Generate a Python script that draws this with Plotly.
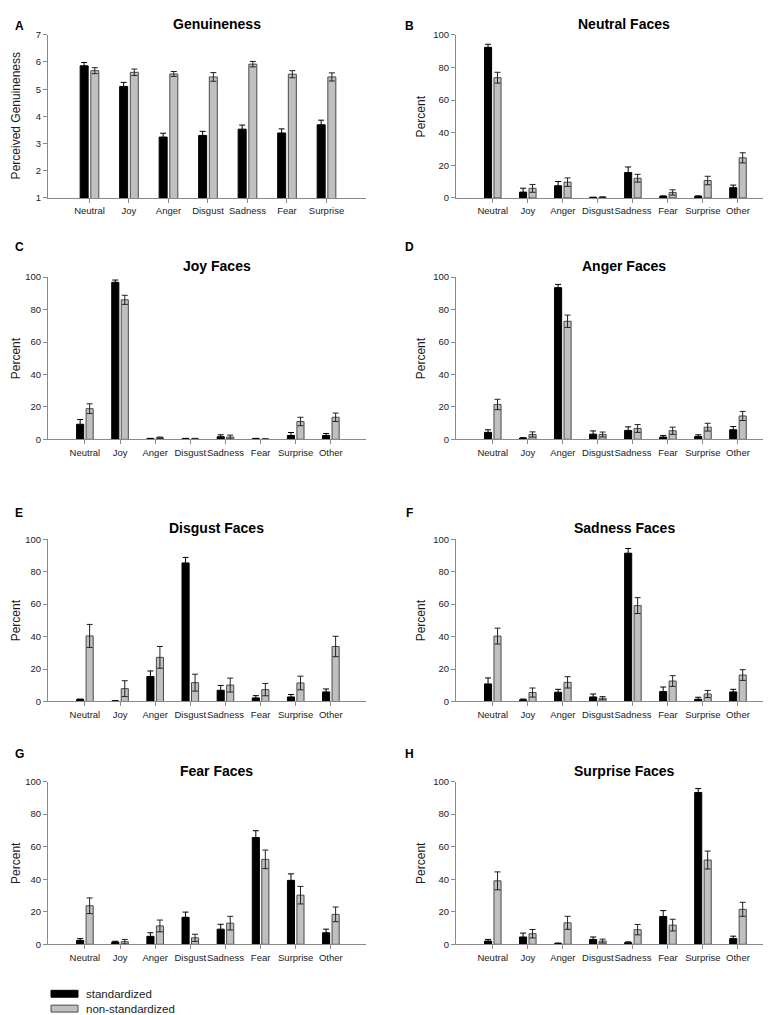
import plotly.graph_objects as go
from plotly.subplots import make_subplots

FONT = "Liberation Sans, Arial, sans-serif"
W, H = 771, 1015

series_names = ["standardized", "non-standardized"]

gen_categories = ["Neutral", "Joy", "Anger", "Disgust", "Sadness", "Fear", "Surprise"]
face_categories = ["Neutral", "Joy", "Anger", "Disgust", "Sadness", "Fear", "Surprise", "Other"]

# Panel A: Genuineness
gen_std = [5.86, 5.10, 3.24, 3.30, 3.53, 3.39, 3.69]
gen_std_err = [0.12, 0.15, 0.14, 0.15, 0.15, 0.15, 0.17]
gen_non = [5.68, 5.62, 5.56, 5.45, 5.92, 5.55, 5.45]
gen_non_err = [0.11, 0.12, 0.09, 0.16, 0.10, 0.13, 0.15]

# Panel B: Neutral Faces
neu_std = [92.3, 3.6, 7.5, 0.3, 15.6, 1.0, 1.0, 6.3]
neu_std_err = [1.9, 2.4, 2.6, 0.2, 3.4, 0.3, 0.3, 1.6]
neu_non = [73.7, 5.9, 9.7, 0.5, 12.1, 3.4, 10.7, 24.6]
neu_non_err = [3.3, 2.4, 2.6, 0.2, 2.4, 1.6, 2.6, 3.1]

# Panel C: Joy Faces
joy_std = [9.3, 96.8, 0.4, 0.4, 1.6, 0.4, 2.4, 2.4]
joy_std_err = [2.9, 1.4, 0.2, 0.2, 1.2, 0.2, 1.8, 1.2]
joy_non = [18.9, 86.0, 1.0, 0.4, 1.4, 0.2, 11.0, 13.6]
joy_non_err = [3.0, 2.8, 0.4, 0.2, 1.2, 0.0, 2.6, 2.6]

# Panel D: Anger Faces
ang_std = [4.3, 0.8, 93.5, 3.2, 5.5, 1.4, 1.8, 5.9]
ang_std_err = [1.6, 0.2, 2.0, 2.0, 2.2, 1.0, 1.0, 2.0]
ang_non = [21.5, 3.0, 72.8, 3.0, 6.7, 5.3, 7.5, 14.4]
ang_non_err = [3.2, 1.6, 3.8, 1.5, 2.4, 2.2, 2.4, 2.8]

# Panel E: Disgust Faces
dis_std = [1.2, 0.3, 15.4, 85.4, 6.9, 2.2, 2.8, 5.9]
dis_std_err = [0.3, 0.2, 3.4, 3.4, 3.0, 1.4, 1.5, 1.8]
dis_non = [40.4, 7.9, 27.2, 11.6, 10.1, 7.3, 11.4, 33.9]
dis_non_err = [7.1, 4.9, 6.7, 5.2, 4.3, 3.8, 4.2, 6.3]

# Panel F: Sadness Faces
sad_std = [10.8, 1.0, 5.7, 2.8, 91.4, 6.1, 1.4, 5.9]
sad_std_err = [3.7, 0.5, 1.8, 1.8, 2.9, 2.8, 1.2, 1.6]
sad_non = [40.3, 5.5, 11.8, 2.0, 59.1, 12.6, 4.6, 16.3]
sad_non_err = [4.9, 2.8, 3.5, 1.0, 4.9, 3.3, 2.2, 3.3]

# Panel G: Fear Faces
fea_std = [2.4, 1.4, 4.9, 16.6, 9.3, 65.6, 39.3, 7.1]
fea_std_err = [1.1, 0.5, 2.2, 3.2, 3.0, 4.2, 4.0, 2.2]
fea_non = [23.7, 1.6, 11.3, 4.0, 13.0, 52.2, 30.2, 18.4]
fea_non_err = [4.8, 1.4, 3.6, 2.2, 4.2, 5.7, 5.4, 4.5]

# Panel H: Surprise Faces
sur_std = [2.0, 4.5, 0.5, 3.0, 1.0, 17.1, 93.3, 3.5]
sur_std_err = [1.0, 2.4, 0.3, 1.5, 0.5, 3.6, 2.4, 1.5]
sur_non = [39.0, 6.5, 13.2, 2.0, 9.0, 11.8, 51.8, 21.5]
sur_non_err = [5.5, 2.6, 4.0, 1.2, 3.2, 3.6, 5.5, 4.3]

panels = [
    ("A", "Genuineness", "Perceived Genuineness", gen_categories, gen_std, gen_std_err, gen_non, gen_non_err),
    ("B", "Neutral Faces", "Percent", face_categories, neu_std, neu_std_err, neu_non, neu_non_err),
    ("C", "Joy Faces", "Percent", face_categories, joy_std, joy_std_err, joy_non, joy_non_err),
    ("D", "Anger Faces", "Percent", face_categories, ang_std, ang_std_err, ang_non, ang_non_err),
    ("E", "Disgust Faces", "Percent", face_categories, dis_std, dis_std_err, dis_non, dis_non_err),
    ("F", "Sadness Faces", "Percent", face_categories, sad_std, sad_std_err, sad_non, sad_non_err),
    ("G", "Fear Faces", "Percent", face_categories, fea_std, fea_std_err, fea_non, fea_non_err),
    ("H", "Surprise Faces", "Percent", face_categories, sur_std, sur_std_err, sur_non, sur_non_err),
]

# pixel geometry (top, bottom) of each plot row, and (left, right) of each column
rows_px = [(21, 186), (266, 430), (531, 695), (776, 940.5)]
cols_px = [(40, 358), (448, 765)]
title_y_px = [10, 255, 520, 765]
letter_y_px = [12, 236, 504, 748]
title_x_px = [209, 616]
letter_x_px = [11, 401]
ytitle_x_px = [8, 413]

BLACK = "#000000"
GRAY = "#c0c0c0"
AXIS = "#8a8a8a"
TXT = "#1a1a1a"

fig = make_subplots(rows=4, cols=2)

annotations = []
for i, (letter, title, ytitle, cats, s, se, n, ne) in enumerate(panels):
    r, c = i // 2 + 1, i % 2 + 1
    xs = list(range(len(cats)))
    fig.add_trace(go.Bar(
        x=xs, y=s, name=series_names[0], showlegend=False,
        marker=dict(color=BLACK, line=dict(color=BLACK, width=1)),
        error_y=dict(type="data", array=se, visible=True, color=BLACK, thickness=1, width=3),
    ), row=r, col=c)
    fig.add_trace(go.Bar(
        x=xs, y=n, name=series_names[1], showlegend=False,
        marker=dict(color=GRAY, line=dict(color="#4a4a4a", width=1)),
        error_y=dict(type="data", array=ne, visible=True, color="#222222", thickness=1, width=3),
    ), row=r, col=c)

    top, bot = rows_px[r - 1]
    left, right = cols_px[c - 1]
    fig.update_xaxes(
        domain=[left / W, right / W], range=[-1.05, len(cats)],
        tickmode="array", tickvals=xs, ticktext=cats, tickangle=0,
        showline=True, linecolor=AXIS, linewidth=1, ticks="outside", ticklen=4,
        tickcolor=AXIS, showgrid=False, zeroline=False,
        tickfont=dict(family=FONT, size=9.5, color=TXT), fixedrange=True,
        row=r, col=c)
    if i == 0:
        yr, dt = [1, 7], 1
    else:
        yr, dt = [0, 100], 20
    fig.update_yaxes(
        domain=[1 - bot / H, 1 - top / H], range=yr, dtick=dt,
        showline=True, linecolor=AXIS, linewidth=1, ticks="outside", ticklen=4,
        tickcolor=AXIS, showgrid=False, zeroline=False,
        tickfont=dict(family=FONT, size=9.5, color=TXT), fixedrange=True,
        row=r, col=c)

    annotations.append(dict(
        x=title_x_px[c - 1] / W, y=1 - title_y_px[r - 1] / H, xref="paper", yref="paper",
        text="<b>%s</b>" % title, showarrow=False, xanchor="center", yanchor="middle",
        font=dict(family=FONT, size=14, color=BLACK)))
    annotations.append(dict(
        x=letter_x_px[c - 1] / W, y=1 - letter_y_px[r - 1] / H, xref="paper", yref="paper",
        text="<b>%s</b>" % letter, showarrow=False, xanchor="center", yanchor="middle",
        font=dict(family=FONT, size=12, color=BLACK)))
    annotations.append(dict(
        x=ytitle_x_px[c - 1] / W, y=1 - (top + bot) / 2 / H, xref="paper", yref="paper",
        text=ytitle, showarrow=False, textangle=-90, xanchor="center", yanchor="middle",
        font=dict(family=FONT, size=12, color=TXT)))

# legend drawn as swatches + text
legend_rows = [(987, 994, BLACK, BLACK), (1002, 1009, GRAY, "#4a4a4a")]
shapes = []
for (y0, y1, fc, lc), name in zip(legend_rows, series_names):
    shapes.append(dict(type="rect", xref="paper", yref="paper",
                       x0=43 / W, x1=70 / W, y0=1 - y1 / H, y1=1 - y0 / H,
                       fillcolor=fc, line=dict(color=lc, width=1)))
    annotations.append(dict(
        x=76 / W, y=1 - (y0 + y1) / 2 / H, xref="paper", yref="paper",
        text=name, showarrow=False, xanchor="left", yanchor="middle",
        font=dict(family=FONT, size=11.5, color=TXT)))

fig.update_layout(
    width=W, height=H, margin=dict(l=0, r=0, t=0, b=0),
    paper_bgcolor="white", plot_bgcolor="white",
    barmode="group", bargap=0.46, bargroupgap=0.25,
    showlegend=False, annotations=annotations, shapes=shapes,
    font=dict(family=FONT, color=TXT),
)

fig.write_html("out.html", config={"displayModeBar": False})
